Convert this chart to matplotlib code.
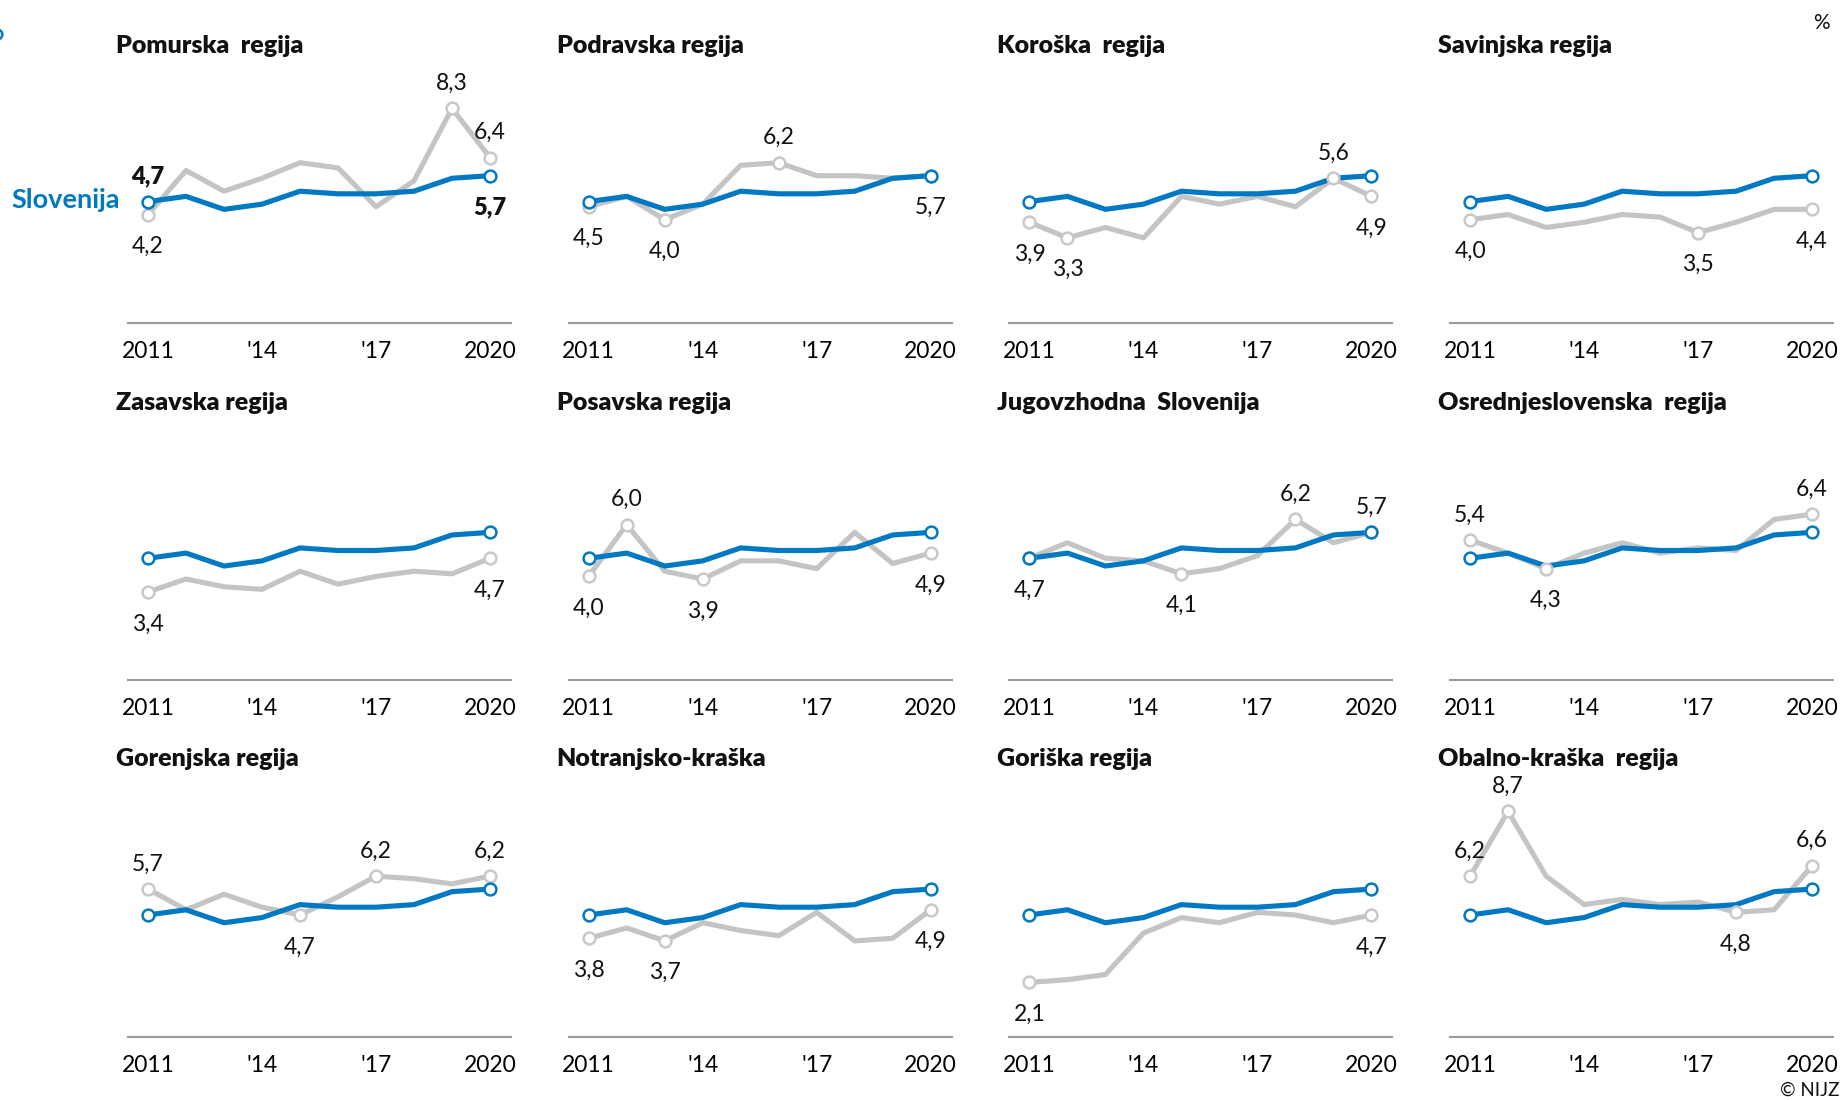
import matplotlib.pyplot as plt
from matplotlib.lines import Line2D

plt.rcParams['font.family'] = ['Lato', 'DejaVu Sans']

# podatki
leta = list(range(2011, 2021))
oznake_let = ['2011', "'14", "'17", '2020']
leta_oznak = [2011, 2014, 2017, 2020]

slovenija = [4.7, 4.9, 4.4, 4.6, 5.1, 5.0, 5.0, 5.1, 5.6, 5.7]

regije = ['Pomurska  regija', 'Podravska regija', 'Koroška  regija', 'Savinjska regija',
          'Zasavska regija', 'Posavska regija', 'Jugovzhodna  Slovenija', 'Osrednjeslovenska  regija',
          'Gorenjska regija', 'Notranjsko-kraška', 'Goriška regija', 'Obalno-kraška  regija']

pomurska = [4.2, 5.9, 5.1, 5.6, 6.2, 6.0, 4.5, 5.5, 8.3, 6.4]
podravska = [4.5, 4.9, 4.0, 4.6, 6.1, 6.2, 5.7, 5.7, 5.6, 5.7]
koroska = [3.9, 3.3, 3.7, 3.3, 4.9, 4.6, 4.9, 4.5, 5.6, 4.9]
savinjska = [4.0, 4.2, 3.7, 3.9, 4.2, 4.1, 3.5, 3.9, 4.4, 4.4]
zasavska = [3.4, 3.9, 3.6, 3.5, 4.2, 3.7, 4.0, 4.2, 4.1, 4.7]
posavska = [4.0, 6.0, 4.2, 3.9, 4.6, 4.6, 4.3, 5.7, 4.5, 4.9]
jugovzhodna = [4.7, 5.3, 4.7, 4.6, 4.1, 4.3, 4.8, 6.2, 5.3, 5.7]
osrednjeslovenska = [5.4, 4.9, 4.3, 4.9, 5.3, 4.9, 5.1, 5.0, 6.2, 6.4]
gorenjska = [5.7, 4.9, 5.5, 5.0, 4.7, 5.4, 6.2, 6.1, 5.9, 6.2]
notranjsko = [3.8, 4.2, 3.7, 4.4, 4.1, 3.9, 4.8, 3.7, 3.8, 4.9]
goriska = [2.1, 2.2, 2.4, 4.0, 4.6, 4.4, 4.8, 4.7, 4.4, 4.7]
obalno = [6.2, 8.7, 6.2, 5.1, 5.3, 5.1, 5.2, 4.8, 4.9, 6.6]

vrednosti = [pomurska, podravska, koroska, savinjska, zasavska, posavska,
             jugovzhodna, osrednjeslovenska, gorenjska, notranjsko, goriska, obalno]

# katere tocke so oznacene: (indeks leta, 'g' = nad, 'd' = pod)
oznacene = [
    [(0, 'd'), (8, 'g'), (9, 'g')],
    [(0, 'd'), (2, 'd'), (5, 'g'), (9, 'd')],
    [(0, 'd'), (1, 'd'), (8, 'g'), (9, 'd')],
    [(0, 'd'), (6, 'd'), (9, 'd')],
    [(0, 'd'), (9, 'd')],
    [(0, 'd'), (1, 'g'), (3, 'd'), (9, 'd')],
    [(0, 'd'), (4, 'd'), (7, 'g'), (9, 'g')],
    [(0, 'g'), (2, 'd'), (9, 'g')],
    [(0, 'g'), (4, 'd'), (6, 'g'), (9, 'g')],
    [(0, 'd'), (2, 'd'), (9, 'd')],
    [(0, 'd'), (9, 'd')],
    [(0, 'g'), (1, 'g'), (7, 'd'), (9, 'g')],
]

modra = '#0079c2'
siva = '#c4c4c4'
siva_os = '#9b9b9b'

W, H = 1845, 1101
fig = plt.figure(figsize=(W / 100, H / 100), dpi=100)

px_na_enoto = 25.9
y_top = 9.5
x_korak = 440.7
y_korak = 356.7


def fmt(v):
    return f'{v:.1f}'.replace('.', ',')


for i, (ime, vr) in enumerate(zip(regije, vrednosti)):
    r, c = divmod(i, 4)
    levo = 128 + x_korak * c
    osnova = 323.3 + y_korak * r
    visina = y_top * px_na_enoto
    ax = fig.add_axes([levo / W, 1 - osnova / H, 383 / W, visina / H])
    ax.set_xlim(2011 - 20 / 38, 2020 + 21 / 38)
    ax.set_ylim(0, y_top)
    for s in ['top', 'left', 'right']:
        ax.spines[s].set_visible(False)
    ax.spines['bottom'].set_color(siva_os)
    ax.spines['bottom'].set_linewidth(1.5)
    ax.set_yticks([])
    ax.set_xticks(leta_oznak)
    ax.set_xticklabels(oznake_let, fontsize=16.5)
    ax.tick_params(axis='x', length=0, pad=13)
    ax.patch.set_alpha(0)

    ax.plot(leta, vr, color=siva, lw=3.7, zorder=2)
    ax.plot(leta, slovenija, color=modra, lw=3.7, zorder=3)
    ax.plot([leta[0], leta[-1]], [slovenija[0], slovenija[-1]], ls='none', marker='o',
            ms=8.5, mfc='white', mec=modra, mew=1.8, zorder=5)

    for k, smer in oznacene[i]:
        ax.plot(leta[k], vr[k], ls='none', marker='o', ms=8.5, mfc='white',
                mec='#c8c8c8', mew=1.8, zorder=4)
        dy = 18 if smer == 'g' else -23
        ax.annotate(fmt(vr[k]), (leta[k], vr[k]), xytext=(0, dy), textcoords='offset points',
                    ha='center', va='center', fontsize=16.5, color='#111111')

    if i == 0:
        ax.annotate(fmt(slovenija[0]), (leta[0], slovenija[0]), xytext=(0, 18),
                    textcoords='offset points', ha='center', va='center', fontsize=17,
                    fontweight='heavy', color='#111111')
        ax.annotate(fmt(slovenija[-1]), (leta[-1], slovenija[-1]), xytext=(0, -23),
                    textcoords='offset points', ha='center', va='center', fontsize=17,
                    fontweight='heavy', color='#111111')

    fig.text((116 + x_korak * c) / W, 1 - (46 + y_korak * r) / H, ime, fontsize=18,
             fontweight='heavy', ha='left', va='center', color='#111111')

fig.text(120 / W, 1 - 200 / H, 'Slovenija', fontsize=19.5, fontweight='bold', color=modra,
         ha='right', va='center')
fig.text(1821 / W, 1 - 23 / H, '%', fontsize=15, ha='center', va='center', color='#111111')
fig.text(1840 / W, 1 - 1090 / H, '© NIJZ', fontsize=13.5, ha='right', va='center', color='#111111')
fig.add_artist(Line2D([-3 / W], [1 - 34 / H], marker='o', ms=7, mfc='white', mec=modra, mew=1.8))

fig.savefig('out.png', dpi=100)
